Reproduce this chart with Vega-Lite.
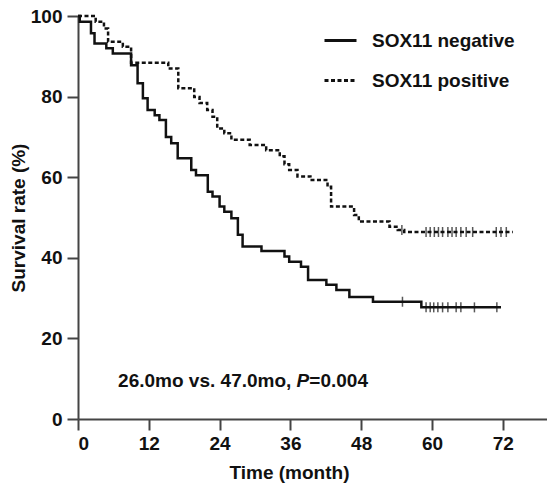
{
  "$schema": "https://vega.github.io/schema/vega-lite/v6.json",
  "width": 469,
  "height": 403,
  "autosize": "none",
  "padding": {"left": 78, "top": 16, "right": 0, "bottom": 67},
  "background": "white",
  "config": {
    "view": {"stroke": null},
    "font": "Liberation Sans",
    "axis": {
      "domainColor": "#444",
      "domainWidth": 2,
      "tickColor": "#444",
      "tickWidth": 2,
      "tickSize": 11,
      "grid": false,
      "labelFont": "Liberation Sans",
      "labelFontWeight": "bold",
      "labelFontSize": 19,
      "labelColor": "#111",
      "titleFont": "Liberation Sans",
      "titleFontWeight": "bold",
      "titleFontSize": 19,
      "titleColor": "#111"
    }
  },
  "datasets": {
    "curves": [
      {"g": "SOX11 negative", "t": 0, "v": 100},
      {"g": "SOX11 negative", "t": 0.3, "v": 98.6},
      {"g": "SOX11 negative", "t": 2.2, "v": 95.7},
      {"g": "SOX11 negative", "t": 2.8, "v": 93.2},
      {"g": "SOX11 negative", "t": 4.8, "v": 92.0},
      {"g": "SOX11 negative", "t": 5.9, "v": 90.7},
      {"g": "SOX11 negative", "t": 9.0, "v": 87.8},
      {"g": "SOX11 negative", "t": 10.1, "v": 83.3},
      {"g": "SOX11 negative", "t": 11.0, "v": 79.6},
      {"g": "SOX11 negative", "t": 11.8, "v": 76.7},
      {"g": "SOX11 negative", "t": 13.0, "v": 75.4},
      {"g": "SOX11 negative", "t": 13.8, "v": 74.2},
      {"g": "SOX11 negative", "t": 14.9, "v": 70.0},
      {"g": "SOX11 negative", "t": 15.8, "v": 68.4},
      {"g": "SOX11 negative", "t": 16.9, "v": 64.7},
      {"g": "SOX11 negative", "t": 19.2, "v": 61.8},
      {"g": "SOX11 negative", "t": 20.0, "v": 60.5},
      {"g": "SOX11 negative", "t": 22.0, "v": 56.4},
      {"g": "SOX11 negative", "t": 22.8, "v": 55.2},
      {"g": "SOX11 negative", "t": 24.0, "v": 52.7},
      {"g": "SOX11 negative", "t": 24.8, "v": 51.4},
      {"g": "SOX11 negative", "t": 26.0, "v": 49.8},
      {"g": "SOX11 negative", "t": 27.1, "v": 45.7},
      {"g": "SOX11 negative", "t": 27.9, "v": 42.8},
      {"g": "SOX11 negative", "t": 31.1, "v": 41.7},
      {"g": "SOX11 negative", "t": 35.0, "v": 40.3},
      {"g": "SOX11 negative", "t": 35.8, "v": 39.0},
      {"g": "SOX11 negative", "t": 37.8, "v": 37.8},
      {"g": "SOX11 negative", "t": 39.0, "v": 34.5},
      {"g": "SOX11 negative", "t": 42.1, "v": 33.3},
      {"g": "SOX11 negative", "t": 43.8, "v": 32.0},
      {"g": "SOX11 negative", "t": 46.0, "v": 30.3},
      {"g": "SOX11 negative", "t": 50.0, "v": 29.1},
      {"g": "SOX11 negative", "t": 58.2, "v": 27.7},
      {"g": "SOX11 negative", "t": 71.7, "v": 27.7},
      {"g": "SOX11 positive", "t": 0, "v": 100},
      {"g": "SOX11 positive", "t": 3.0, "v": 98.6},
      {"g": "SOX11 positive", "t": 4.4, "v": 96.9},
      {"g": "SOX11 positive", "t": 5.1, "v": 93.6},
      {"g": "SOX11 positive", "t": 7.6, "v": 92.4},
      {"g": "SOX11 positive", "t": 9.0, "v": 88.4},
      {"g": "SOX11 positive", "t": 15.3, "v": 87.0},
      {"g": "SOX11 positive", "t": 17.0, "v": 82.1},
      {"g": "SOX11 positive", "t": 19.7, "v": 79.9},
      {"g": "SOX11 positive", "t": 20.6, "v": 78.4},
      {"g": "SOX11 positive", "t": 21.9, "v": 76.7},
      {"g": "SOX11 positive", "t": 22.8, "v": 75.0},
      {"g": "SOX11 positive", "t": 23.6, "v": 72.1},
      {"g": "SOX11 positive", "t": 24.8, "v": 70.9},
      {"g": "SOX11 positive", "t": 26.0, "v": 69.3},
      {"g": "SOX11 positive", "t": 29.1, "v": 68.0},
      {"g": "SOX11 positive", "t": 31.9, "v": 66.7},
      {"g": "SOX11 positive", "t": 34.2, "v": 65.2},
      {"g": "SOX11 positive", "t": 35.0, "v": 63.2},
      {"g": "SOX11 positive", "t": 35.8, "v": 61.8},
      {"g": "SOX11 positive", "t": 37.2, "v": 60.2},
      {"g": "SOX11 positive", "t": 39.4, "v": 59.3},
      {"g": "SOX11 positive", "t": 42.3, "v": 57.6},
      {"g": "SOX11 positive", "t": 42.9, "v": 52.7},
      {"g": "SOX11 positive", "t": 46.8, "v": 50.6},
      {"g": "SOX11 positive", "t": 47.6, "v": 49.0},
      {"g": "SOX11 positive", "t": 52.8, "v": 47.7},
      {"g": "SOX11 positive", "t": 54.2, "v": 46.9},
      {"g": "SOX11 positive", "t": 55.3, "v": 46.4},
      {"g": "SOX11 positive", "t": 73.7, "v": 46.4}
    ],
    "censors": [
      {"g": "SOX11 negative", "t": 55.0, "v": 29.1},
      {"g": "SOX11 negative", "t": 59.0, "v": 27.7},
      {"g": "SOX11 negative", "t": 59.7, "v": 27.7},
      {"g": "SOX11 negative", "t": 60.3, "v": 27.7},
      {"g": "SOX11 negative", "t": 61.0, "v": 27.7},
      {"g": "SOX11 negative", "t": 61.8, "v": 27.7},
      {"g": "SOX11 negative", "t": 62.7, "v": 27.7},
      {"g": "SOX11 negative", "t": 64.1, "v": 27.7},
      {"g": "SOX11 negative", "t": 64.9, "v": 27.7},
      {"g": "SOX11 negative", "t": 67.2, "v": 27.7},
      {"g": "SOX11 negative", "t": 71.0, "v": 27.7},
      {"g": "SOX11 positive", "t": 54.9, "v": 46.9},
      {"g": "SOX11 positive", "t": 59.0, "v": 46.4},
      {"g": "SOX11 positive", "t": 59.7, "v": 46.4},
      {"g": "SOX11 positive", "t": 60.4, "v": 46.4},
      {"g": "SOX11 positive", "t": 61.1, "v": 46.4},
      {"g": "SOX11 positive", "t": 61.8, "v": 46.4},
      {"g": "SOX11 positive", "t": 62.7, "v": 46.4},
      {"g": "SOX11 positive", "t": 63.4, "v": 46.4},
      {"g": "SOX11 positive", "t": 64.1, "v": 46.4},
      {"g": "SOX11 positive", "t": 64.9, "v": 46.4},
      {"g": "SOX11 positive", "t": 65.8, "v": 46.4},
      {"g": "SOX11 positive", "t": 66.9, "v": 46.4},
      {"g": "SOX11 positive", "t": 70.9, "v": 46.4},
      {"g": "SOX11 positive", "t": 71.7, "v": 46.4},
      {"g": "SOX11 positive", "t": 72.6, "v": 46.4}
    ],
    "note": [{"label": "26.0mo vs. 47.0mo, ", "p": "P", "rest": "=0.004"}]
  },
  "layer": [
    {
      "data": {"name": "curves"},
      "mark": {"type": "line", "interpolate": "step-after", "strokeWidth": 2.5, "color": "#111", "strokeCap": "butt"},
      "encoding": {
        "x": {
          "field": "t", "type": "quantitative",
          "scale": {"domain": [0, 79.5], "nice": false, "zero": false},
          "axis": {"values": [0, 12, 24, 36, 48, 60, 72], "title": "Time (month)", "labelPadding": 4, "titlePadding": 10, "titleX": 211}
        },
        "y": {
          "field": "v", "type": "quantitative",
          "scale": {"domain": [0, 100], "nice": false},
          "axis": {"values": [0, 20, 40, 60, 80, 100], "title": "Survival rate (%)", "labelPadding": 5, "titlePadding": 2}
        },
        "detail": {"field": "g"},
        "strokeDash": {
          "field": "g", "type": "nominal",
          "scale": {"domain": ["SOX11 negative", "SOX11 positive"], "range": [[1, 0], [4, 2.5]]},
          "legend": {
            "title": null,
            "orient": "none",
            "legendX": 245,
            "legendY": 7,
            "symbolType": "stroke",
            "symbolSize": 1024,
            "symbolStrokeWidth": 3,
            "symbolStrokeColor": "#111",
            "labelFont": "Liberation Sans",
            "labelFontWeight": "bold",
            "labelFontSize": 19,
            "labelColor": "#111",
            "labelOffset": 14,
            "rowPadding": 12,
            "padding": 0
          }
        }
      }
    },
    {
      "data": {"name": "censors"},
      "mark": {"type": "tick", "orient": "vertical", "size": 10, "thickness": 1.5, "color": "#111"},
      "encoding": {
        "x": {"field": "t", "type": "quantitative"},
        "y": {"field": "v", "type": "quantitative"},
        "strokeDash": {"field": "g", "type": "nominal", "legend": null}
      }
    },
    {
      "data": {"name": "note"},
      "mark": {"type": "text", "align": "left", "baseline": "middle", "font": "Liberation Sans", "fontWeight": "bold", "fontSize": 19, "fill": "#111"},
      "encoding": {"x": {"datum": 6.8, "type": "quantitative"}, "y": {"datum": 9.4, "type": "quantitative"}, "text": {"field": "label", "type": "nominal"}}
    },
    {
      "data": {"name": "note"},
      "mark": {"type": "text", "align": "left", "baseline": "middle", "font": "Liberation Sans", "fontWeight": "bold", "fontStyle": "italic", "fontSize": 19, "fill": "#111", "dx": 178.5},
      "encoding": {"x": {"datum": 6.8, "type": "quantitative"}, "y": {"datum": 9.4, "type": "quantitative"}, "text": {"field": "p", "type": "nominal"}}
    },
    {
      "data": {"name": "note"},
      "mark": {"type": "text", "align": "left", "baseline": "middle", "font": "Liberation Sans", "fontWeight": "bold", "fontSize": 19, "fill": "#111", "dx": 191.2},
      "encoding": {"x": {"datum": 6.8, "type": "quantitative"}, "y": {"datum": 9.4, "type": "quantitative"}, "text": {"field": "rest", "type": "nominal"}}
    }
  ]
}
